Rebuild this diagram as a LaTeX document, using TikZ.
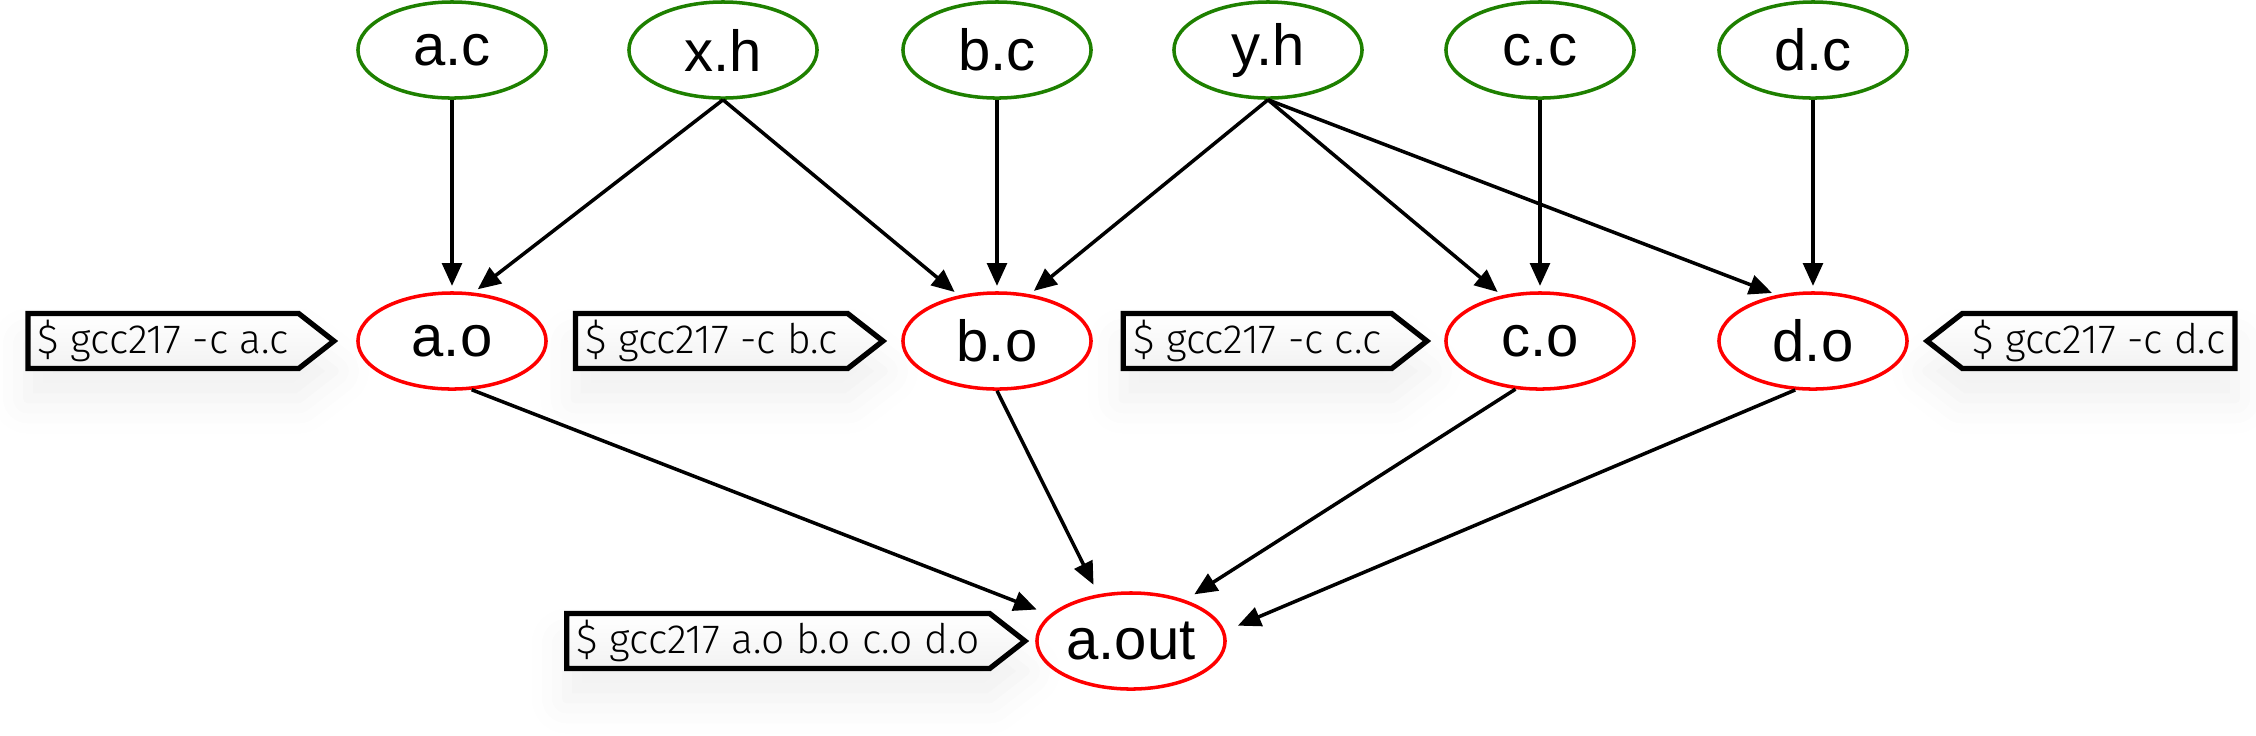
\documentclass[tikz,border=0pt]{standalone}
\usepackage{fontspec}
\setmainfont{Liberation Sans}
\newfontfamily\cmdfont{Fira Sans Light}
\usepackage{tikz}
\usetikzlibrary{positioning, arrows.meta, shapes.geometric, shapes.symbols, shadows.blur}

\definecolor{srcgreen}{RGB}{30,128,0}
\tikzset{
	src/.style={ellipse, draw=srcgreen, line width=1pt, minimum width=1.88cm, minimum height=0.96cm, inner sep=0pt, font=\fontsize{16.5}{18}\selectfont},
	obj/.style={src, draw=red},
	cmd/.style={signal, signal to=east, signal pointer angle=76, draw=black, line width=1.5pt, top color=white, bottom color=black!5, minimum height=0.55cm, inner xsep=0.1cm, inner ysep=0pt, font=\cmdfont\fontsize{11.6}{13}\selectfont, blur shadow={shadow xshift=0pt, shadow yshift=-0.3cm, shadow opacity=6, shadow blur radius=0.35cm}},
	dep/.style={-{Triangle[length=6.5pt, width=5.6pt]}, line width=1pt, shorten >=1.5pt},
}

\begin{document}
\begin{tikzpicture}[x=0.01cm, y=-0.01cm]
	\useasboundingbox (0, 0) rectangle (2256, 735);

	\node[src] (a src) at (452, 50) {a.c};
	\node[src] (x hdr) at (723, 50) {x.h};
	\node[src] (b src) at (997, 50) {b.c};
	\node[src] (y hdr) at (1268, 50) {y.h};
	\node[src] (c src) at (1540, 50) {c.c};
	\node[src] (d src) at (1813, 50) {d.c};

	\node[obj] (a obj) at (452, 341) {a.o};
	\node[obj] (b obj) at (997, 341) {b.o};
	\node[obj] (c obj) at (1540, 341) {c.o};
	\node[obj] (d obj) at (1813, 341) {d.o};
	\node[obj] (a out) at (1131, 641) {a.out};

	\node[cmd, left=0.18cm of a obj] (a cmd) {\$ gcc217 -c a.c};
	\node[cmd, left=0.14cm of b obj] (b cmd) {\$ gcc217 -c b.c};
	\node[cmd, left=0.13cm of c obj] (c cmd) {\$ gcc217 -c c.c};
	\node[cmd, signal to=west, right=0.14cm of d obj] (d cmd) {\$ gcc217 -c d.c};
	\node[cmd, left=0.06cm of a out] (out cmd) {\$ gcc217 a.o b.o c.o d.o};

	\draw[dep] (a src) -- (a obj);
	\draw[dep] (b src) -- (b obj);
	\draw[dep] (c src) -- (c obj);
	\draw[dep] (d src) -- (d obj);
	\draw[dep] (x hdr.south) -- (a obj.66);
	\draw[dep] (x hdr.south) -- (b obj.130);
	\draw[dep] (y hdr.south) -- (b obj.55);
	\draw[dep] (y hdr.south) -- (c obj.130);
	\draw[dep] (y hdr.south) -- (d obj.128);

	\draw[dep, shorten >=4pt] (a obj.-68) -- (a out.162);
	\draw[dep, shorten >=3pt] (b obj.south) -- (a out.125);
	\draw[dep, shorten >=3pt] (c obj.-117) -- (a out.37);
	\draw[dep, shorten >=4pt] (d obj.-110) -- (a out.6);
\end{tikzpicture}
\end{document}
